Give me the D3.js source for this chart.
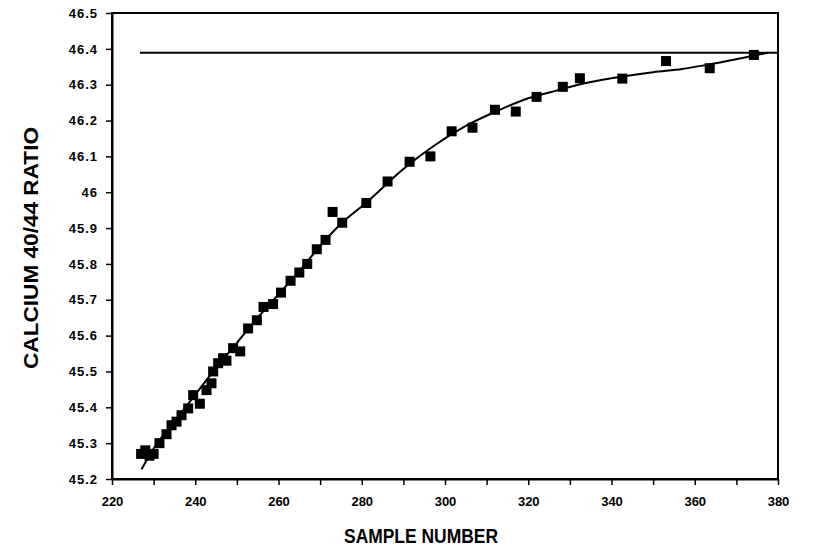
<!DOCTYPE html>
<html>
<head>
<meta charset="utf-8">
<script src="https://cdn.jsdelivr.net/npm/d3@7"></script>
<style>
  html, body { margin: 0; padding: 0; background: #fff; }
  svg { display: block; }
  text { font-family: "Liberation Sans", Arial, sans-serif; font-weight: bold; fill: #000; }
</style>
</head>
<body>
<svg id="chart" width="817" height="549"></svg>
<script>
// ---- data ----
const sampleNumbers = [227, 228, 229, 230, 231.4, 233.1, 234.3, 235.5, 236.7, 238.3, 239.5, 241.1, 242.7, 243.9, 244.3, 245.5, 246.7, 247.5, 249.1, 250.8, 252.7, 254.8, 256.4, 258.7, 260.6, 262.9, 265, 266.9, 269.2, 271.3, 273, 275.3, 281.1, 286.2, 291.5, 296.5, 301.6, 306.6, 312, 317, 322, 328.3, 332.4, 342.6, 353.1, 363.6, 374.2];
const ratios = [45.27, 45.28, 45.265, 45.27, 45.30, 45.325, 45.35, 45.36, 45.378, 45.397, 45.434, 45.41, 45.448, 45.467, 45.50, 45.523, 45.537, 45.53, 45.565, 45.556, 45.62, 45.643, 45.68, 45.688, 45.72, 45.753, 45.776, 45.80, 45.841, 45.867, 45.945, 45.915, 45.97, 46.03, 46.085, 46.10, 46.17, 46.18, 46.23, 46.225, 46.266, 46.294, 46.318, 46.317, 46.366, 46.346, 46.383];

// fitted curve drawn in the reference
const fitX = [227.1, 230, 235, 240, 245, 250, 255, 260, 265, 270, 275, 281, 290, 297, 305, 313, 320, 325, 332, 340, 350, 357, 365, 372, 377.5];
const fitY = [45.227, 45.285, 45.36, 45.435, 45.51, 45.58, 45.65, 45.715, 45.78, 45.85, 45.912, 45.97, 46.065, 46.127, 46.185, 46.229, 46.262, 46.278, 46.30, 46.318, 46.335, 46.344, 46.36, 46.376, 46.389];

// horizontal reference level
const levelX = [226.7, 380];
const levelY = 46.389;

const xTicks = [220, 230, 240, 250, 260, 270, 280, 290, 300, 310, 320, 330, 340, 350, 360, 370, 380];
const xTickLabels = [220, 240, 260, 280, 300, 320, 340, 360, 380];
const yTicks = [45.2, 45.3, 45.4, 45.5, 45.6, 45.7, 45.8, 45.9, 46.0, 46.1, 46.2, 46.3, 46.4, 46.5];

const xTitle = "SAMPLE NUMBER";
const yTitle = "CALCIUM 40/44 RATIO";

// ---- layout ----
const svg = d3.select("#chart");
const plot = { left: 112, right: 778, top: 13, bottom: 479 };

const x = d3.scaleLinear().domain([220, 380]).range([plot.left, plot.right]);
const y = d3.scaleLinear().domain([45.2, 46.5]).range([plot.bottom, plot.top]);

// frame
svg.append("rect")
  .attr("x", plot.left).attr("y", plot.top)
  .attr("width", plot.right - plot.left).attr("height", plot.bottom - plot.top)
  .attr("fill", "none").attr("stroke", "#000").attr("stroke-width", 2);

// x axis
const xAxis = d3.axisBottom(x).tickValues(xTicks).tickSize(6).tickSizeOuter(0)
  .tickFormat(d => xTickLabels.includes(d) ? String(d) : "");
const gx = svg.append("g").attr("transform", `translate(0,${plot.bottom})`).call(xAxis);
gx.select(".domain").attr("stroke-width", 2);
gx.selectAll(".tick line").attr("stroke-width", 1.5);
gx.selectAll(".tick text").attr("dy", "1.35em")
  .style("font-size", "13px").style("font-weight", "bold")
  .style("font-family", "'Liberation Sans', Arial, sans-serif");

// y axis
const yAxis = d3.axisLeft(y).tickValues(yTicks).tickSize(6).tickSizeOuter(0)
  .tickFormat(d => String(+d.toFixed(1)));
const gy = svg.append("g").attr("transform", `translate(${plot.left},0)`).call(yAxis);
gy.select(".domain").attr("stroke-width", 2);
gy.selectAll(".tick line").attr("stroke-width", 1.5);
gy.selectAll(".tick text").attr("x", -14)
  .style("font-size", "13px").style("font-weight", "bold")
  .style("font-family", "'Liberation Sans', Arial, sans-serif")
  .style("letter-spacing", "1px");

// horizontal level line
svg.append("line")
  .attr("x1", x(levelX[0])).attr("x2", x(levelX[1]))
  .attr("y1", y(levelY)).attr("y2", y(levelY))
  .attr("stroke", "#000").attr("stroke-width", 2);

// fitted curve
const fit = fitX.map((v, i) => [v, fitY[i]]);
svg.append("path")
  .datum(fit)
  .attr("fill", "none").attr("stroke", "#000").attr("stroke-width", 2)
  .attr("d", d3.line().x(d => x(d[0])).y(d => y(d[1])).curve(d3.curveMonotoneX));

// data points (filled squares)
const pts = sampleNumbers.map((v, i) => [v, ratios[i]]);
const s = 10;
svg.append("g").selectAll("rect").data(pts).join("rect")
  .attr("x", d => x(d[0]) - s / 2).attr("y", d => y(d[1]) - s / 2)
  .attr("width", s).attr("height", s).attr("fill", "#000");

// titles
svg.append("text").attr("x", 421).attr("y", 543)
  .attr("text-anchor", "middle").style("font-size", "20px")
  .attr("textLength", 154).attr("lengthAdjust", "spacingAndGlyphs")
  .text(xTitle);
svg.append("text")
  .attr("transform", `translate(38,248) rotate(-90)`)
  .attr("text-anchor", "middle").style("font-size", "20px")
  .attr("textLength", 242).attr("lengthAdjust", "spacingAndGlyphs")
  .text(yTitle);
</script>
</body>
</html>
